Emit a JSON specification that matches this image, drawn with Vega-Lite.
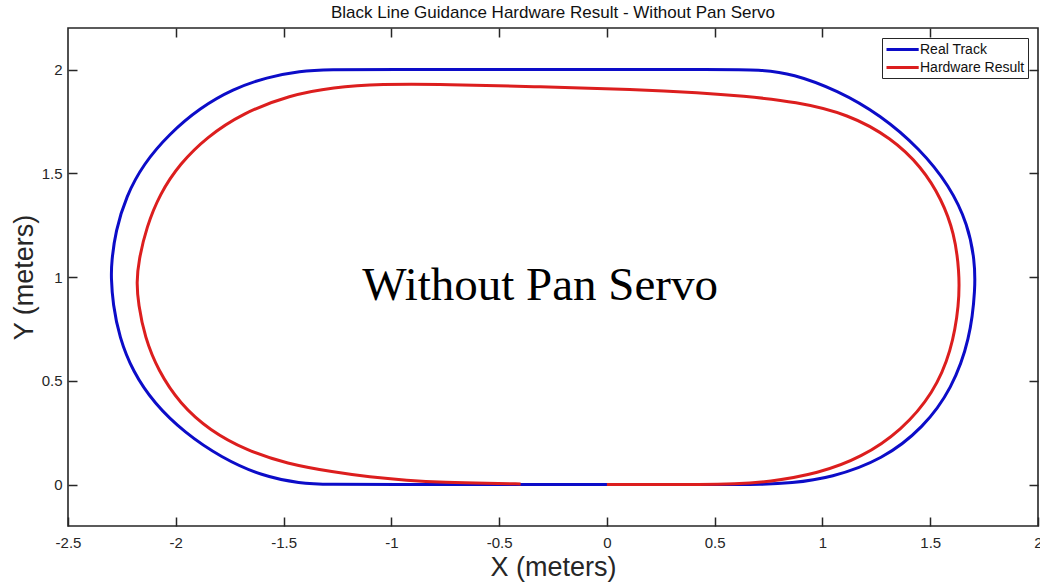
{
  "$schema": "https://vega.github.io/schema/vega-lite/v6.json",
  "autosize": "none",
  "width": 970,
  "height": 498,
  "padding": {"left": 68, "top": 28, "right": 2, "bottom": 56},
  "background": "white",
  "title": {"text": "Black Line Guidance Hardware Result - Without Pan Servo", "fontSize": 17, "font": "Liberation Sans", "fontWeight": "normal", "color": "#111", "baseline": "alphabetic", "offset": -8, "anchor": "middle"},
  "config": {
    "view": {"stroke": "#262626", "strokeWidth": 1.6},
    "axis": {"grid": false, "domain": false, "labelFont": "Liberation Sans", "labelFontSize": 15, "labelColor": "#262626", "tickColor": "#262626", "tickWidth": 1.5, "tickSize": -9, "titleFont": "Liberation Sans", "titleFontWeight": "normal", "titleColor": "#262626", "titleFontSize": 27, "labelFlush": false, "labelOverlap": false}
  },
  "datasets": {
    "track": [
      {"series": "Real Track", "i": 0, "x": 0, "y": 0},
      {"series": "Real Track", "i": 1, "x": 0.3, "y": 0},
      {"series": "Real Track", "i": 2, "x": 0.55, "y": 0},
      {"series": "Real Track", "i": 3, "x": 0.716, "y": 0},
      {"series": "Real Track", "i": 4, "x": 0.85, "y": 0.006},
      {"series": "Real Track", "i": 5, "x": 1.04, "y": 0.032},
      {"series": "Real Track", "i": 6, "x": 1.28, "y": 0.12},
      {"series": "Real Track", "i": 7, "x": 1.47, "y": 0.275},
      {"series": "Real Track", "i": 8, "x": 1.6, "y": 0.46},
      {"series": "Real Track", "i": 9, "x": 1.685, "y": 0.7},
      {"series": "Real Track", "i": 10, "x": 1.71, "y": 0.949},
      {"series": "Real Track", "i": 11, "x": 1.706, "y": 1.08},
      {"series": "Real Track", "i": 12, "x": 1.676, "y": 1.25},
      {"series": "Real Track", "i": 13, "x": 1.59, "y": 1.44},
      {"series": "Real Track", "i": 14, "x": 1.45, "y": 1.62},
      {"series": "Real Track", "i": 15, "x": 1.27, "y": 1.78},
      {"series": "Real Track", "i": 16, "x": 1.07, "y": 1.9},
      {"series": "Real Track", "i": 17, "x": 0.86, "y": 1.98},
      {"series": "Real Track", "i": 18, "x": 0.716, "y": 2},
      {"series": "Real Track", "i": 19, "x": 0.5, "y": 2},
      {"series": "Real Track", "i": 20, "x": 0, "y": 2},
      {"series": "Real Track", "i": 21, "x": -0.5, "y": 2},
      {"series": "Real Track", "i": 22, "x": -1.0, "y": 2},
      {"series": "Real Track", "i": 23, "x": -1.3, "y": 2},
      {"series": "Real Track", "i": 24, "x": -1.42, "y": 1.993},
      {"series": "Real Track", "i": 25, "x": -1.578, "y": 1.963},
      {"series": "Real Track", "i": 26, "x": -1.735, "y": 1.906},
      {"series": "Real Track", "i": 27, "x": -1.888, "y": 1.815},
      {"series": "Real Track", "i": 28, "x": -2.03, "y": 1.69},
      {"series": "Real Track", "i": 29, "x": -2.15, "y": 1.545},
      {"series": "Real Track", "i": 30, "x": -2.23, "y": 1.39},
      {"series": "Real Track", "i": 31, "x": -2.28, "y": 1.22},
      {"series": "Real Track", "i": 32, "x": -2.298, "y": 1.07},
      {"series": "Real Track", "i": 33, "x": -2.3, "y": 1.0},
      {"series": "Real Track", "i": 34, "x": -2.292, "y": 0.87},
      {"series": "Real Track", "i": 35, "x": -2.262, "y": 0.71},
      {"series": "Real Track", "i": 36, "x": -2.2, "y": 0.545},
      {"series": "Real Track", "i": 37, "x": -2.1, "y": 0.39},
      {"series": "Real Track", "i": 38, "x": -1.96, "y": 0.25},
      {"series": "Real Track", "i": 39, "x": -1.79, "y": 0.13},
      {"series": "Real Track", "i": 40, "x": -1.6, "y": 0.04},
      {"series": "Real Track", "i": 41, "x": -1.42, "y": 0.005},
      {"series": "Real Track", "i": 42, "x": -1.3, "y": 0},
      {"series": "Real Track", "i": 43, "x": -1.0, "y": 0},
      {"series": "Real Track", "i": 44, "x": -0.5, "y": 0},
      {"series": "Real Track", "i": 45, "x": -0.2, "y": 0},
      {"series": "Real Track", "i": 46, "x": 0, "y": 0},
      {"series": "Hardware Result", "i": 0, "x": 0, "y": 0},
      {"series": "Hardware Result", "i": 1, "x": 0.2, "y": 0},
      {"series": "Hardware Result", "i": 2, "x": 0.437, "y": 0},
      {"series": "Hardware Result", "i": 3, "x": 0.591, "y": 0.003},
      {"series": "Hardware Result", "i": 4, "x": 0.749, "y": 0.012},
      {"series": "Hardware Result", "i": 5, "x": 0.981, "y": 0.053},
      {"series": "Hardware Result", "i": 6, "x": 1.181, "y": 0.13},
      {"series": "Hardware Result", "i": 7, "x": 1.367, "y": 0.26},
      {"series": "Hardware Result", "i": 8, "x": 1.515, "y": 0.44},
      {"series": "Hardware Result", "i": 9, "x": 1.598, "y": 0.64},
      {"series": "Hardware Result", "i": 10, "x": 1.635, "y": 0.87},
      {"series": "Hardware Result", "i": 11, "x": 1.635, "y": 1.03},
      {"series": "Hardware Result", "i": 12, "x": 1.612, "y": 1.21},
      {"series": "Hardware Result", "i": 13, "x": 1.553, "y": 1.375},
      {"series": "Hardware Result", "i": 14, "x": 1.46, "y": 1.53},
      {"series": "Hardware Result", "i": 15, "x": 1.32, "y": 1.67},
      {"series": "Hardware Result", "i": 16, "x": 1.12, "y": 1.785},
      {"series": "Hardware Result", "i": 17, "x": 0.88, "y": 1.845},
      {"series": "Hardware Result", "i": 18, "x": 0.623, "y": 1.873},
      {"series": "Hardware Result", "i": 19, "x": 0.437, "y": 1.888},
      {"series": "Hardware Result", "i": 20, "x": 0.126, "y": 1.905},
      {"series": "Hardware Result", "i": 21, "x": -0.307, "y": 1.916},
      {"series": "Hardware Result", "i": 22, "x": -0.75, "y": 1.929},
      {"series": "Hardware Result", "i": 23, "x": -1.05, "y": 1.93},
      {"series": "Hardware Result", "i": 24, "x": -1.27, "y": 1.915},
      {"series": "Hardware Result", "i": 25, "x": -1.47, "y": 1.877},
      {"series": "Hardware Result", "i": 26, "x": -1.69, "y": 1.79},
      {"series": "Hardware Result", "i": 27, "x": -1.857, "y": 1.674},
      {"series": "Hardware Result", "i": 28, "x": -1.981, "y": 1.546},
      {"series": "Hardware Result", "i": 29, "x": -2.074, "y": 1.401},
      {"series": "Hardware Result", "i": 30, "x": -2.136, "y": 1.24},
      {"series": "Hardware Result", "i": 31, "x": -2.172, "y": 1.08},
      {"series": "Hardware Result", "i": 32, "x": -2.182, "y": 0.975},
      {"series": "Hardware Result", "i": 33, "x": -2.174, "y": 0.871},
      {"series": "Hardware Result", "i": 34, "x": -2.144, "y": 0.71},
      {"series": "Hardware Result", "i": 35, "x": -2.082, "y": 0.549},
      {"series": "Hardware Result", "i": 36, "x": -1.981, "y": 0.389},
      {"series": "Hardware Result", "i": 37, "x": -1.842, "y": 0.26},
      {"series": "Hardware Result", "i": 38, "x": -1.671, "y": 0.164},
      {"series": "Hardware Result", "i": 39, "x": -1.485, "y": 0.1},
      {"series": "Hardware Result", "i": 40, "x": -1.268, "y": 0.06},
      {"series": "Hardware Result", "i": 41, "x": -1.1, "y": 0.036},
      {"series": "Hardware Result", "i": 42, "x": -0.93, "y": 0.02},
      {"series": "Hardware Result", "i": 43, "x": -0.75, "y": 0.01},
      {"series": "Hardware Result", "i": 44, "x": -0.55, "y": 0.005},
      {"series": "Hardware Result", "i": 45, "x": -0.4, "y": 0.003}
    ],
    "note": [
      {"label": "Without Pan Servo", "x": -0.31, "y": 0.887}
    ]
  },
  "layer": [
    {
      "data": {"name": "track"},
      "transform": [{"filter": "datum.series === 'Real Track'"}],
      "mark": {"type": "line", "strokeWidth": 3, "interpolate": "basis"},
      "encoding": {
        "x": {"field": "x", "type": "quantitative", "scale": {"domain": [-2.5, 2], "nice": false, "zero": false},
              "axis": {"orient": "bottom", "values": [-2.5, -2, -1.5, -1, -0.5, 0, 0.5, 1, 1.5, 2], "labelExpr": "'' + datum.value", "title": "X (meters)", "labelBaseline": "alphabetic", "labelPadding": 30, "titlePadding": 4}},
        "y": {"field": "y", "type": "quantitative", "scale": {"domain": [-0.2, 2.2], "nice": false, "zero": false},
              "axis": {"orient": "left", "values": [0, 0.5, 1, 1.5, 2], "labelExpr": "'' + datum.value", "title": "Y (meters)", "labelPadding": 15, "titlePadding": 3}},
        "order": {"field": "i", "type": "quantitative"},
        "color": {"field": "series", "type": "nominal",
                  "scale": {"domain": ["Real Track", "Hardware Result"], "range": ["#0c0cc8", "#dc1e1e"]},
                  "legend": {"title": null, "orient": "top-right", "offset": 10, "strokeColor": "#262626", "fillColor": "white", "padding": 3, "labelFont": "Liberation Sans", "labelFontSize": 14, "labelColor": "#111", "symbolType": "M-1,0H3.6", "symbolSize": 196, "symbolStrokeWidth": 3, "labelOffset": 18, "rowPadding": 2}}
      }
    },
    {
      "data": {"name": "track"},
      "transform": [{"filter": "datum.series === 'Hardware Result'"}],
      "mark": {"type": "line", "strokeWidth": 3, "interpolate": "basis"},
      "encoding": {
        "x": {"field": "x", "type": "quantitative", "scale": {"domain": [-2.5, 2], "nice": false, "zero": false}, "axis": null},
        "y": {"field": "y", "type": "quantitative", "scale": {"domain": [-0.2, 2.2], "nice": false, "zero": false}, "axis": null},
        "order": {"field": "i", "type": "quantitative"},
        "color": {"field": "series", "type": "nominal", "scale": {"domain": ["Real Track", "Hardware Result"], "range": ["#0c0cc8", "#dc1e1e"]}}
      }
    },
    {
      "data": {"name": "note"},
      "mark": {"type": "text", "font": "Liberation Serif", "fontSize": 47, "align": "center", "baseline": "alphabetic", "color": "#000"},
      "encoding": {
        "x": {"field": "x", "type": "quantitative", "scale": {"domain": [-2.5, 2], "nice": false, "zero": false},
              "axis": {"orient": "top", "values": [-2, -1.5, -1, -0.5, 0, 0.5, 1, 1.5], "labels": false, "title": null}},
        "y": {"field": "y", "type": "quantitative", "scale": {"domain": [-0.2, 2.2], "nice": false, "zero": false},
              "axis": {"orient": "right", "values": [0, 0.5, 1, 1.5, 2], "labels": false, "title": null}},
        "text": {"field": "label"}
      }
    }
  ],
  "resolve": {"axis": {"x": "independent", "y": "independent"}}
}
